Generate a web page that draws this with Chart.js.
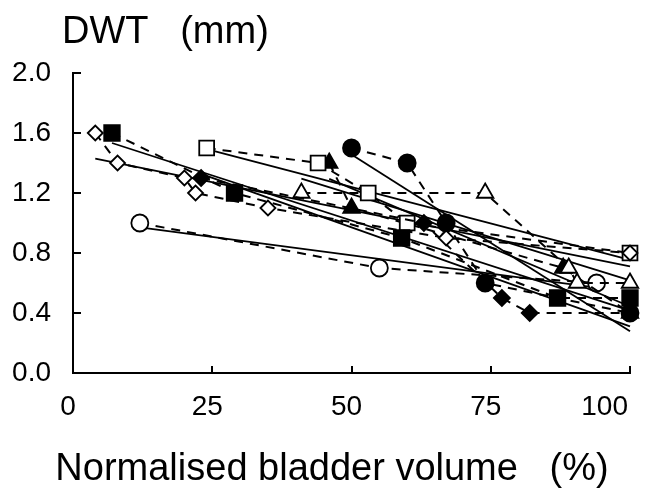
<!DOCTYPE html>
<html>
<head>
<meta charset="utf-8">
<script src="https://cdn.jsdelivr.net/npm/chart.js@4.4.1/dist/chart.umd.min.js"></script>
<style>
  html, body { margin: 0; padding: 0; background: #fff; }
  canvas { display: block; }
</style>
</head>
<body>
<canvas id="myChart" width="652" height="490"></canvas>
<script>
// valores, un sujeto por marcador
var openDiamondX   = [4, 8, 20, 22, 35, 67, 100];
var openDiamondY   = [1.6, 1.4, 1.3, 1.2, 1.1, 0.9, 0.8];
var filledSquareX  = [7, 29, 59, 87, 100];
var filledSquareY  = [1.6, 1.2, 0.9, 0.5, 0.5];
var filledDiamondX = [23, 63, 77, 82, 100];
var filledDiamondY = [1.3, 1.0, 0.5, 0.4, 0.4];
var openSquareX    = [24, 44, 53, 60, 100];
var openSquareY    = [1.5, 1.4, 1.2, 1.0, 0.8];
var openTriangleX  = [41, 74, 89, 90.5, 100];
var openTriangleY  = [1.2, 1.2, 0.7, 0.6, 0.6];
var filledTriangleX = [46, 50, 88, 100];
var filledTriangleY = [1.4, 1.1, 0.7, 0.4];
var filledCircleX  = [50, 60, 67, 74, 100];
var filledCircleY  = [1.5, 1.4, 1.0, 0.6, 0.4];
var openCircleX    = [12, 55, 94];
var openCircleY    = [1.0, 0.7, 0.6];

var xTicks = [0, 25, 50, 75, 100];
var yTicks = [0.0, 0.4, 0.8, 1.2, 1.6, 2.0];

var yTitle = 'DWT   (mm)';
var xTitle = 'Normalised bladder volume   (%)';

var FONT = "'Liberation Sans', Arial, sans-serif";

function toPoints(xs, ys) {
    return xs.map(function (x, i) { return { x: x, y: ys[i] }; });
}

// recta de regresion (minimos cuadrados) entre el primer y ultimo punto
function fitLine(xs, ys) {
    var n = xs.length, mx = 0, my = 0;
    for (var i = 0; i < n; i++) { mx += xs[i]; my += ys[i]; }
    mx /= n; my /= n;
    var sxy = 0, sxx = 0;
    for (var j = 0; j < n; j++) {
        sxy += (xs[j] - mx) * (ys[j] - my);
        sxx += (xs[j] - mx) * (xs[j] - mx);
    }
    var b = sxy / sxx, a = my - b * mx;
    var x0 = Math.min.apply(null, xs), x1 = Math.max.apply(null, xs);
    return [{ x: x0, y: a + b * x0 }, { x: x1, y: a + b * x1 }];
}

var subjects = [
    { xs: openDiamondX,   ys: openDiamondY,   style: 'rectRot',  r: 7.5, filled: false },
    { xs: filledSquareX,  ys: filledSquareY,  style: 'rect',     r: 11,  filled: true },
    { xs: filledDiamondX, ys: filledDiamondY, style: 'rectRot',  r: 8,   filled: true },
    { xs: openSquareX,    ys: openSquareY,    style: 'rect',     r: 10.5, filled: false },
    { xs: openTriangleX,  ys: openTriangleY,  style: 'triangle', r: 9.5, filled: false },
    { xs: filledTriangleX, ys: filledTriangleY, style: 'triangle', r: 9.5, filled: true },
    { xs: filledCircleX,  ys: filledCircleY,  style: 'circle',   r: 8.5, filled: true },
    { xs: openCircleX,    ys: openCircleY,    style: 'circle',   r: 8.5, filled: false }
];

var datasets = [];
subjects.forEach(function (s) {
    datasets.push({
        data: fitLine(s.xs, s.ys),
        showLine: true,
        borderColor: '#000',
        borderWidth: 1.8,
        pointRadius: 0,
        clip: false,
        order: 3
    });
});
subjects.forEach(function (s) {
    datasets.push({
        data: toPoints(s.xs, s.ys),
        showLine: true,
        borderColor: '#000',
        borderWidth: 2,
        borderDash: [9, 7],
        pointStyle: s.style,
        pointRadius: s.r,
        pointBorderWidth: 1.8,
        pointBorderColor: '#000',
        pointBackgroundColor: s.filled ? '#000' : '#fff',
        clip: false,
        order: 1
    });
});

// marcas de los ejes hacia dentro, etiquetas del eje x y titulos
var extras = {
    id: 'extras',
    afterDraw: function (chart) {
        var c = chart.ctx, xs = chart.scales.x, ys = chart.scales.y;
        var area = chart.chartArea;
        c.save();
        c.strokeStyle = '#000';
        c.lineWidth = 2;
        c.beginPath();
        xTicks.forEach(function (v) {
            var px = Math.round(xs.getPixelForValue(v));
            c.moveTo(px, area.bottom);
            c.lineTo(px, area.bottom - 7);
        });
        yTicks.forEach(function (v) {
            var py = Math.round(ys.getPixelForValue(v));
            c.moveTo(area.left, py);
            c.lineTo(area.left + 8, py);
        });
        c.stroke();

        c.fillStyle = '#000';
        c.font = '28px ' + FONT;
        c.textBaseline = 'top';
        c.textAlign = 'center';
        xTicks.forEach(function (v) {
            var label = String(v);
            var w = c.measureText(label).width;
            var px = xs.getPixelForValue(v) - 5;
            if (px + w / 2 > 628) { px = 628 - w / 2; }
            c.fillText(label, px, area.bottom + 20);
        });

        c.font = '38px ' + FONT;
        c.textBaseline = 'alphabetic';
        c.textAlign = 'left';
        c.fillText(yTitle, 62, 43);
        c.textAlign = 'center';
        c.fillText(xTitle, 332, 480);
        c.restore();
    }
};

var ctx = document.getElementById('myChart').getContext('2d');
var myChart = new Chart(ctx, {
    type: 'scatter',
    data: { datasets: datasets },
    plugins: [extras],
    options: {
        responsive: false,
        animation: false,
        layout: { padding: { left: 0, right: 22, top: 73, bottom: 0 } },
        plugins: {
            legend: { display: false },
            tooltip: { enabled: false },
            title: { display: false }
        },
        scales: {
            x: {
                type: 'linear',
                min: 0,
                max: 100,
                afterFit: function (scale) { scale.height = 117; },
                afterBuildTicks: function (scale) {
                    scale.ticks = xTicks.map(function (v) { return { value: v }; });
                },
                grid: { display: false, drawTicks: false },
                border: { display: true, color: '#000', width: 2 },
                ticks: { display: false }
            },
            y: {
                type: 'linear',
                min: 0,
                max: 2,
                afterFit: function (scale) { scale.width = 73; },
                afterBuildTicks: function (scale) {
                    scale.ticks = yTicks.map(function (v) { return { value: v }; });
                },
                grid: { display: false, drawTicks: false },
                border: { display: true, color: '#000', width: 2 },
                ticks: {
                    color: '#000',
                    padding: 22,
                    font: { family: FONT, size: 28 },
                    callback: function (v) { return Number(v).toFixed(1); }
                }
            }
        }
    }
});
</script>
</body>
</html>
